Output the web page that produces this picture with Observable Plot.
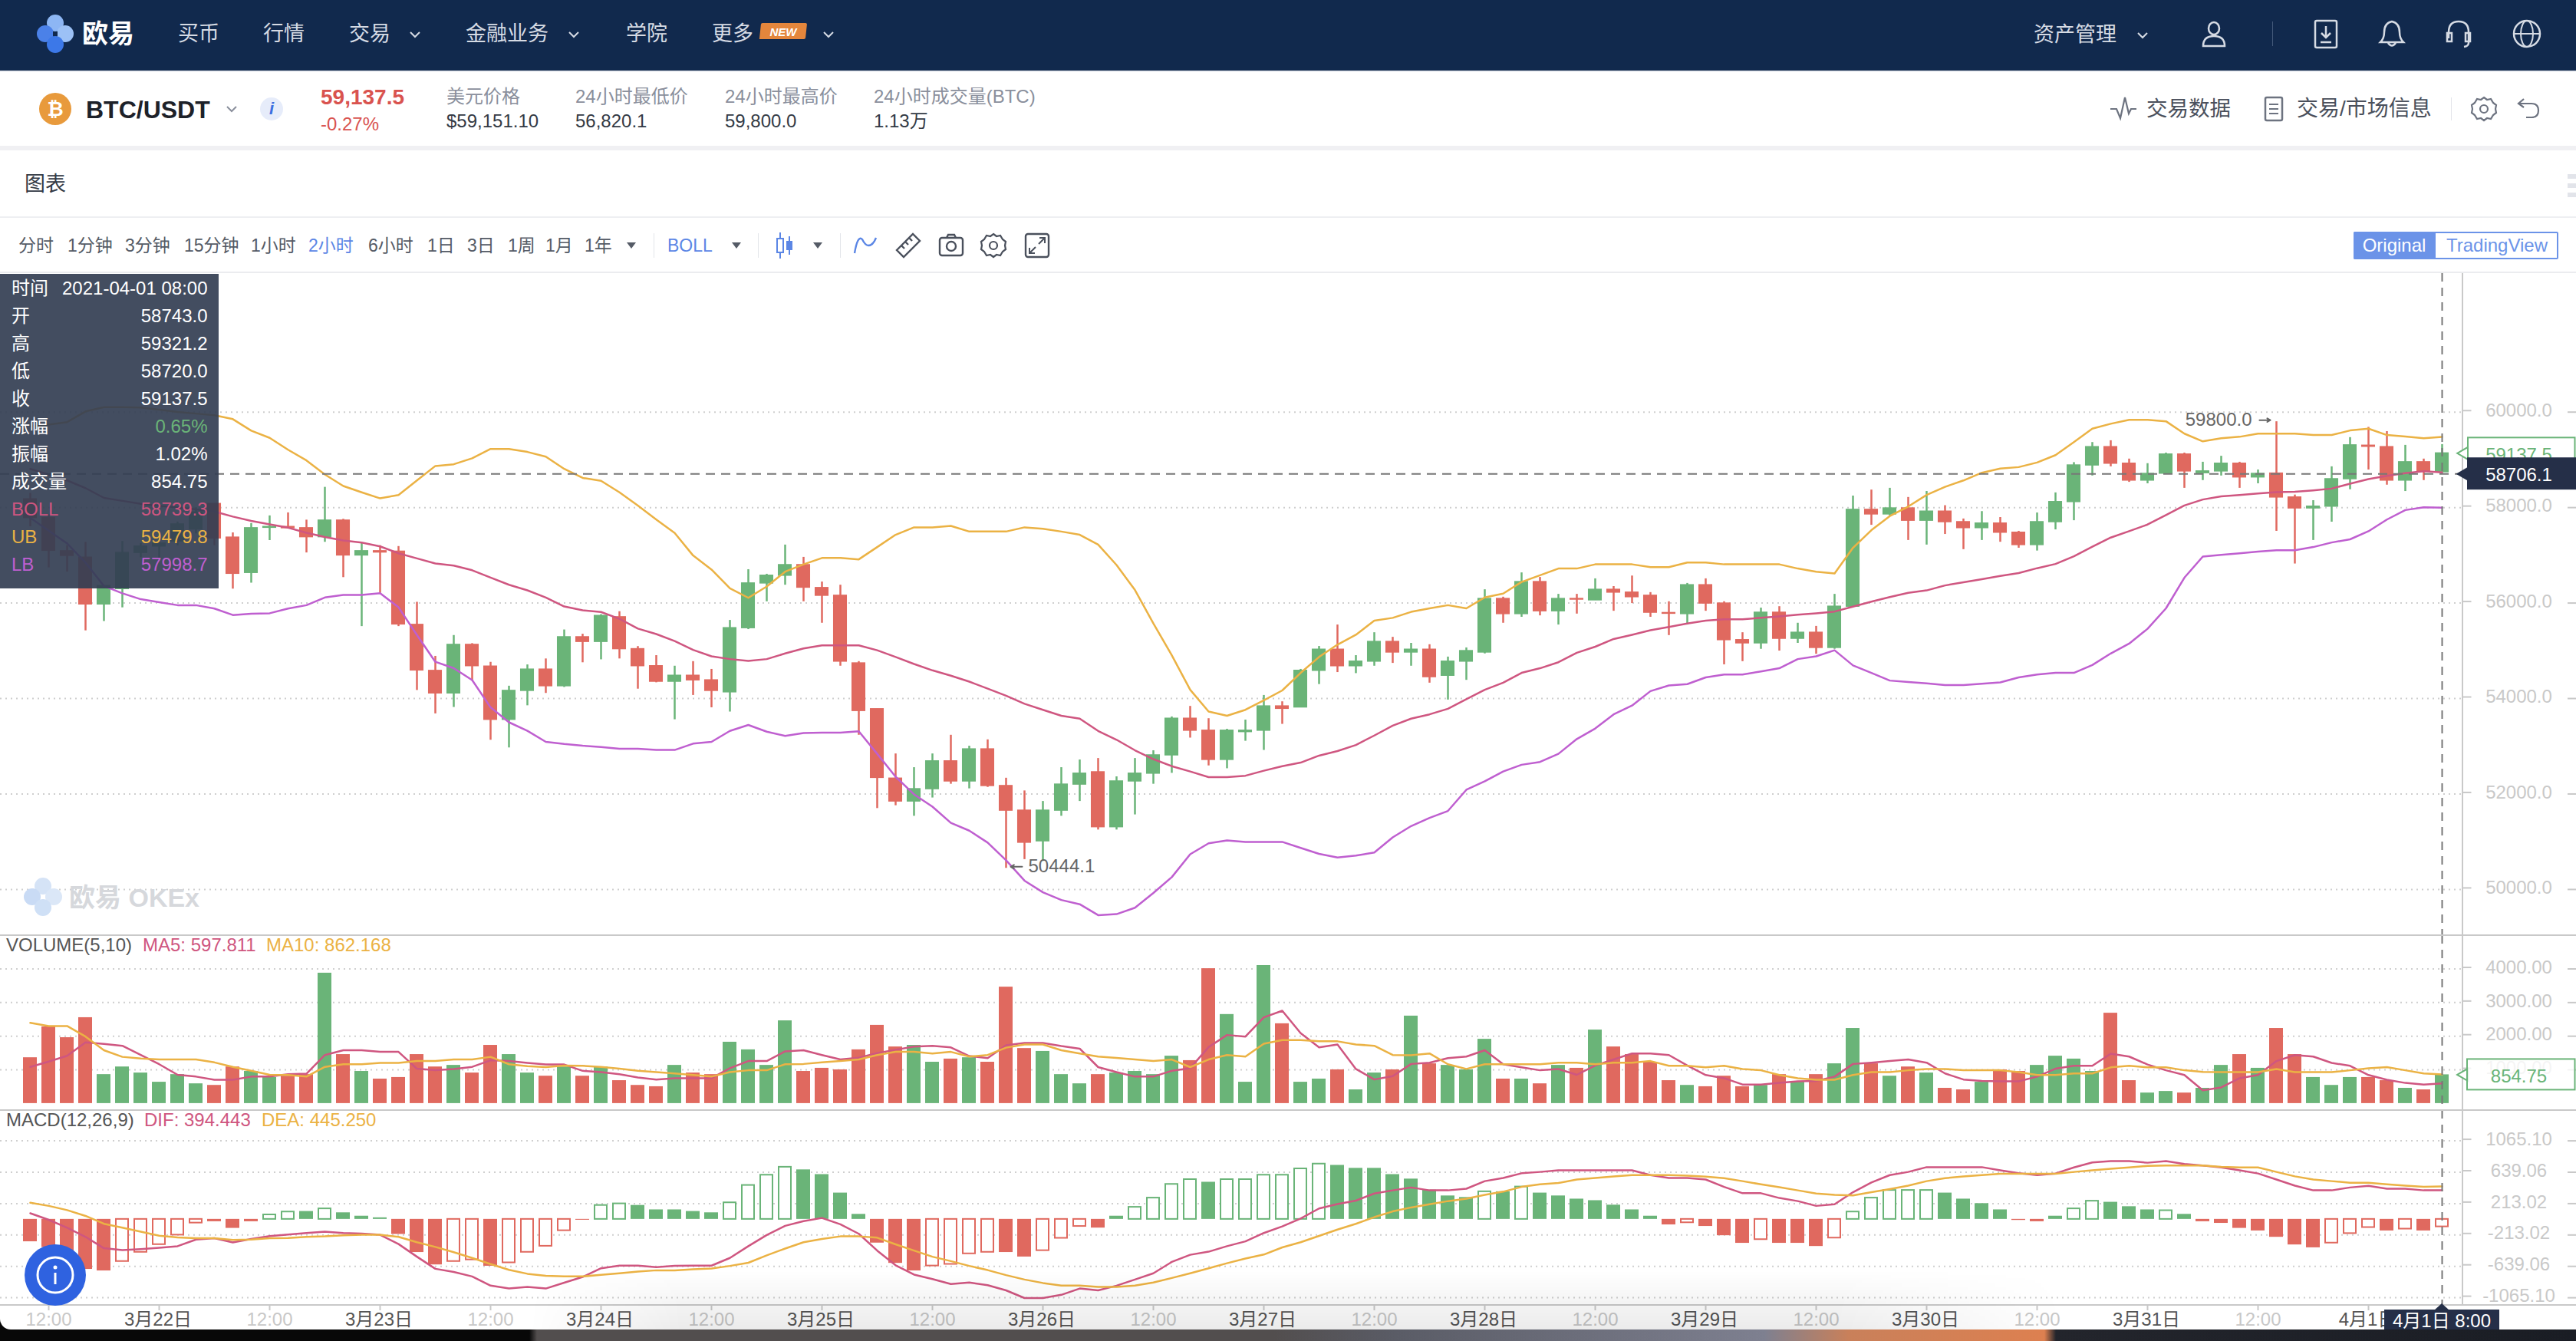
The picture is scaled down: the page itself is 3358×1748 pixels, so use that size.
<!DOCTYPE html>
<html lang="zh">
<head>
<meta charset="utf-8">
<script src="https://cdn.jsdelivr.net/npm/d3@7"></script>
<script src="https://cdn.jsdelivr.net/npm/@observablehq/plot@0.6"></script>
<style>
html,body{margin:0;padding:0;background:#fff;overflow:hidden}
#page{position:relative;width:3358px;height:1748px;overflow:hidden;font-family:"Liberation Sans","Noto Sans CJK SC",sans-serif}
.t{position:absolute;white-space:nowrap;line-height:1}
.abs{position:absolute}
svg.i{position:absolute;overflow:visible;fill:none}
</style>
</head>
<body>
<div id="page"></div>
<script>
// ---------- candle data (2h candles from 2021-03-21 10:00) ----------
const opens=[58176,57784,57088,56954,55973,56294,57052,57186,57293,57543,58078,57373,56633,57579,57596,57570,57382,57730,56999,57088,57079,55545,54581,54109,55126,54671,53556,54162,54608,54260,55286,55188,55705,55036,
54679,54354,54479,54383,54132,55476,56413,56575,56797,56317,56155,54738,53778,52324,51845,52103,52686,52265,52937,52169,51653,51011,51653,52199,52457,51306,52265,52428,52811,53579,53328,52716,53299,53328,53837,
53815,54583,55025,54679,54775,55188,54966,55025,54479,54775,54966,56088,55771,56442,55830,56088,56059,56280,56221,56155,55793,55771,56376,55992,55225,55158,55800,55254,55380,55062,55926,57955,57859,57985,57727,
57918,57697,57572,57668,57476,57217,57697,58118,58885,59269,58922,58568,58713,59114,58723,58760,58922,58634,58715,58214,57985,58022,58597,59299,59269,58568,58952,58743];
const closes=[57784,57097,56990,55973,56357,57052,57186,57249,57650,57900,57356,56615,57570,57596,57570,57382,57730,56999,57088,57061,55554,54590,54109,55126,54680,53556,54162,54608,54260,55286,55188,55732,55036,54680,
54354,54479,54383,54162,55476,56413,56575,56797,56324,56155,54775,53741,52339,51845,52103,52686,52265,52937,52169,51653,50981,51653,52199,52428,51306,52265,52428,52811,53579,53328,52716,53328,53328,53837,53786,
54583,55025,54679,54775,55188,54966,55025,54450,54775,54996,56088,55771,56442,55830,56088,56074,56280,56221,56125,55800,55778,56376,55992,55225,55158,55800,55254,55380,55062,55926,57955,57859,57985,57727,57918,
57697,57572,57668,57476,57217,57697,58118,58885,59269,58922,58568,58708,59114,58760,58760,58922,58634,58708,58214,57985,58022,58597,59306,59276,58568,58952,58760,59137.5];
const highs=[58300,57850,57204,57275,56357,57293,57250,57400,57700,58000,58078,57472,57668,57828,57891,57739,58426,57757,57249,57204,57186,56018,54885,55322,55152,54760,54260,54706,54831,55438,55349,55759,55821,55090,
54900,54679,54775,54612,55638,56701,56605,57217,56959,56442,56376,54775,53778,52841,52553,52841,53232,53003,53136,52332,52066,51845,52553,52715,52745,52361,52745,52908,53616,53837,53579,53358,53550,54066,53933,
54612,55092,55542,54900,55380,55284,55158,55129,54870,55062,56280,56125,56634,56538,56184,56184,56509,56347,56568,56221,56029,56413,56509,56029,55380,55896,55926,55579,55513,56184,58243,58369,58406,58214,58339,
58042,57763,57918,57793,57505,57889,58310,58944,59365,59402,59018,58922,59144,59144,58952,59077,58952,58789,59800,58265,58147,58856,59468,59682,59594,59306,59018,59321.2];
const lows=[57600,56740,56651,55420,55616,55902,56950,56936,57200,57450,57204,56294,56419,57311,57552,57052,57275,56535,55509,56205,55509,54171,53680,53815,54367,53128,52967,53850,54109,54234,54751,54813,54831,54198,
54332,53557,54066,53808,53719,55446,56029,56376,56029,55579,54679,53232,51697,51756,51535,51918,52206,52110,52140,50444.1,50627,50590,51535,51845,51247,51247,51564,52206,52435,53173,52590,52531,53107,52915,53461,
53815,54295,54546,54524,54679,54738,54679,54324,53970,54383,54937,55579,55704,55734,55542,55771,56059,55830,55992,55704,55321,55542,55830,54708,54775,55033,54996,55158,54929,55033,55926,57631,57822,57313,57217,
57439,57121,57313,57276,57151,57092,57535,57727,58664,58856,58531,58501,58713,58406,58568,58664,58406,58501,57505,56820.1,57313,57697,58376,58789,58472,58339,58568,58720];
// ---------- Bollinger bands ----------
const ub=[59702,59737,59791,60014,60103,60103,60094,60050,60005,59969,59934,59853,59612,59461,59211,58988,58694,58453,58319,58194,58265,58569,58872,58908,59033,59229,59229,59166,59068,58810,58622,58560,58319,58042,
57749,57468,56996,56701,56310,56110,56346,56657,56811,56944,56944,56915,57173,57431,57586,57586,57616,57498,57498,57498,57586,57557,57498,57431,57225,56797,56273,55572,54907,54184,53727,53638,53764,53963,54169,
54538,54871,55129,55335,55631,55690,55815,55889,55955,55889,56118,56199,56442,56583,56723,56723,56811,56811,56811,56752,56752,56848,56848,56811,56811,56811,56811,56723,56657,56620,57158,57527,57822,58022,58265,
58435,58568,58730,58819,58848,58944,59099,59372,59653,59756,59837,59837,59808,59549,59387,59453,59483,59549,59549,59549,59520,59520,59616,59653,59520,59490,59453,59479.8];
const boll=[58810,58694,58569,58408,58203,58141,58078,58034,58007,57962,57918,57811,57721,57650,57579,57472,57382,57311,57266,57186,57043,56936,56829,56785,56687,56535,56383,56267,56116,55928,55848,55812,55670,55465,
55350,55203,55018,54885,54826,54789,54826,54944,55048,55114,55114,55114,55011,54871,54723,54590,54479,54354,54206,54059,53889,53764,53638,53579,53321,53136,52915,52730,52583,52472,52354,52354,52383,52487,52583,
52657,52804,52900,53026,53225,53431,53579,53668,53786,53985,54184,54332,54538,54634,54760,54959,55085,55247,55335,55431,55498,55572,55631,55660,55660,55690,55719,55756,55786,55822,55926,56029,56125,56214,56265,
56369,56435,56501,56568,56627,56730,56819,56981,57180,57372,57505,57645,57845,58044,58169,58236,58265,58295,58324,58332,58361,58398,58501,58597,58664,58723,58760,58739.3];
const lb=[57784,57516,57249,56847,56357,56205,56080,56018,55955,55955,55884,55750,55777,55786,55884,55955,56116,56169,56169,56205,55911,55331,54769,54635,54385,53814,53502,53324,53092,53047,53011,52985,52949,52949,
52922,52922,53055,53092,53321,53446,53306,53217,53277,53284,53284,53313,52841,52361,51992,51734,51395,51232,50981,50612,50184,49941,49779,49690,49461,49483,49616,49926,50258,50738,50966,51026,50996,50996,50996,
50870,50745,50671,50708,50775,51092,51328,51498,51645,52088,52265,52472,52612,52671,52841,53151,53372,53668,53852,54155,54273,54302,54442,54502,54502,54568,54634,54826,54885,55011,54693,54538,54376,54346,54317,
54280,54280,54310,54339,54442,54502,54538,54538,54701,54944,55151,55461,55889,56531,56974,57011,57040,57077,57107,57107,57173,57269,57335,57505,57749,57948,58007,57998.7];
// ---------- volume ----------
const volume=[1362,2279,1958,2553,861,1088,908,634,861,587,540,1088,955,775,814,861,3876,1456,955,728,775,1456,1088,1135,908,1730,1456,908,814,1088,814,1088,681,540,
501,1135,908,861,1824,1597,1135,2459,955,1049,1002,1597,2326,1683,1730,1229,1323,1362,1229,3461,1636,1550,861,587,861,908,955,861,1409,1276,4009,2647,634,4103,2372,
634,728,1002,407,908,1002,2600,1182,1135,1002,1911,728,728,587,1135,1049,2185,1683,1456,1229,681,540,501,814,501,540,861,634,861,1182,2232,1182,814,1088,908,
454,407,634,1002,955,1135,1409,1323,955,2686,681,313,360,313,454,1135,1456,1049,2232,1456,775,540,775,775,681,454,407,854.75];
const ma5=[1088,1245,1417,1817,1770,1715,1441,1167,853,799,705,705,799,799,869,885,1441,1582,1582,1535,1535,1034,987,1026,1088,1284,1261,1206,1159,1159,971,932,869,775,
713,752,752,752,1049,1261,1261,1550,1582,1441,1308,1362,1496,1597,1691,1715,1668,1409,1347,1730,1801,1801,1707,1629,1081,932,799,799,971,1049,1676,2036,1989,2560,2756,
2091,1668,1754,1026,713,814,1175,1214,1347,1394,1582,1167,1073,987,1026,853,1128,1308,1488,1488,1441,1128,846,752,564,564,611,658,673,799,1175,1214,1261,1308,1214,
893,713,673,658,658,799,1034,1120,1120,1480,1394,1159,987,846,392,478,752,846,1261,1441,1394,1206,1120,846,705,611,564,597.811];
const ma10=[2396,2302,2302,1989,1582,1386,1339,1308,1308,1308,1221,1088,971,853,846,799,1088,1167,1167,1206,1206,1261,1261,1308,1308,1386,1167,1112,1081,1128,1120,1088,1034,971,
932,893,846,799,932,987,987,1167,1175,1221,1261,1308,1441,1535,1535,1488,1535,1394,1441,1660,1754,1754,1582,1488,1394,1355,1308,1261,1308,1081,1308,1441,1394,1777,1887,
1887,1848,1848,1754,1715,1441,1433,1488,1167,1026,1167,1167,1167,1167,1214,1214,1167,1214,1214,1261,1120,1120,1073,1120,1026,987,846,752,705,705,846,932,932,987,1026,
1026,987,987,987,932,846,846,893,893,1073,1120,1073,1073,987,940,932,932,932,1026,932,932,932,987,1049,1081,987,893,862.168];
// ---------- MACD ----------
const hist=[-304,-382,-490,-679,-700,-572,-447,-343,-214,-50,-32,-122,-32,61,100,107,143,89,43,21,-204,-450,-618,-572,-550,-636,-590,-447,-365,-154,-11,189,211,189,
129,129,107,89,225,461,600,708,672,608,357,68,-322,-597,-700,-633,-611,-468,-447,-450,-511,-425,-257,-96,-118,43,164,289,475,540,504,540,540,600,600,
686,751,733,693,693,608,547,397,318,297,375,375,440,357,318,275,254,193,129,43,-75,-46,-96,-222,-325,-275,-325,-325,-368,-254,100,289,393,393,393,
357,275,214,129,-14,-32,43,143,247,232,172,129,118,68,-32,-54,-122,-157,-243,-347,-386,-322,-193,-111,-157,-132,-157,-101.6];
const histHollow=[5,6,7,8,9,13,14,16,23,24,26,27,28,29,31,32,38,39,40,41,49,50,51,52,55,56,57,60,61,62,63,65,66,67,68,69,70,79,81,90,94,98,99,100,101,102,103,111,112,116,125,126,127,129,131];
const dif=[82,-7,-114,-239,-393,-418,-404,-386,-365,-275,-257,-315,-268,-229,-207,-186,-168,-186,-193,-211,-336,-508,-672,-715,-776,-901,-940,-919,-940,-861,-783,-665,-629,-629,
-650,-633,-629,-629,-525,-365,-214,-89,-25,18,-68,-197,-425,-625,-751,-811,-879,-858,-894,-965,-1069,-1069,-1026,-940,-965,-901,-818,-733,-579,-482,-440,-365,-300,-186,-96,
11,147,207,254,350,393,432,393,393,415,518,561,625,643,665,665,665,665,665,600,561,561,540,440,354,354,289,247,182,204,368,500,600,643,708,
708,708,708,665,625,600,622,704,772,790,790,768,790,751,729,704,665,622,540,457,393,393,432,454,415,415,393,394.443];
const dea=[225,182,125,46,-61,-114,-168,-222,-247,-257,-257,-279,-275,-257,-254,-239,-232,-218,-211,-211,-239,-311,-375,-447,-525,-608,-686,-740,-768,-776,-776,-754,-733,-711,
-693,-693,-679,-668,-633,-590,-490,-397,-311,-268,-232,-232,-250,-340,-425,-508,-568,-633,-690,-758,-818,-865,-901,-901,-919,-919,-901,-858,-797,-733,-665,-597,-533,-479,-382,
-311,-225,-139,-61,29,107,161,204,247,279,332,375,440,475,493,540,561,583,600,600,600,593,579,558,518,475,436,393,350,332,325,368,411,457,518,
558,583,600,618,618,618,618,643,665,686,704,726,729,729,729,711,704,704,643,583,540,518,497,497,475,457,440,445.25];
// ---------- axes, tick labels, readouts ----------
const priceTicks=[50000,52000,54000,56000,58000,60000];
const volumeTicks=[1000,2000,3000,4000];
const macdTicks=[-1065.1,-639.06,-213.02,213.02,639.06,1065.1];
const hourTicks=[1,13,25,37,49,61,73,85,97,109,121];
const dateTicks=[7,19,31,43,55,67,79,91,103,115,127];
const dateLabels=["3月22日","3月23日","3月24日","3月25日","3月26日","3月27日","3月28日","3月29日","3月30日","3月31日","4月1日"];
const lastPrice=59137.5, crossPrice=58706.1, crossIndex=131, lowIndex=53, highIndex=122;
const tipLabels=["时间","开","高","低","收","涨幅","振幅","成交量","BOLL","UB","LB"];
const tipValues=["2021-04-01 08:00","58743.0","59321.2","58720.0","59137.5","0.65%","1.02%","854.75","58739.3","59479.8","57998.7"];

for (const a of [opens,closes,highs,lows,ub,boll,lb,volume,ma5,ma10,hist,dif,dea]) if (a.length!==132) throw new Error("length "+a.length+" first "+a[0]);

const candles=opens.map((o,i)=>({i,o,c:closes[i],h:highs[i],l:lows[i],ub:ub[i],mid:boll[i],lb:lb[i],v:volume[i],ma5:ma5[i],ma10:ma10[i],hist:hist[i],dif:dif[i],dea:dea[i],hollow:histHollow.includes(i)}));
const isUp=d=>d.c>=d.o;

// ---------- palette and scale helpers ----------
const GREEN="#6ab478",RED="#e0695f",PINK="#cf5680",ORANGE="#ebb244",PURPLE="#bf5fd0",NAVY="#252f48",GRID="#cfcfcf",AXIS="#c9c9c9";
const FONT='"Liberation Sans","Noto Sans CJK SC",sans-serif';
const W=3358, AXISX=3209.5, STEP=24, X0=39;
const idx=px=>(px-X0)/STEP;
const xScale={type:"linear",domain:[idx(0),idx(AXISX)],range:[0,AXISX],axis:null};
const baseStyle={background:"transparent",fontSize:"24px",fontFamily:FONT,overflow:"visible"};
const hyphen=f=>d=>f(d).replace("\u2212","-");
const grid=ticks=>Plot.ruleY(ticks,{x1:idx(0),x2:idx(AXISX),stroke:GRID,strokeWidth:2,strokeDasharray:"2 5"});
const stubs=ticks=>Plot.ruleY(ticks,{x1:idx(3347),x2:idx(3358),stroke:AXIS,strokeWidth:2});
const yAxis=(ticks,fmt)=>Plot.axisY(ticks,{anchor:"right",tickSize:11,tickPadding:62.5,textAnchor:"middle",tickFormat:hyphen(fmt),color:AXIS,dy:-2,strokeWidth:2,label:null});
const axisLine=()=>Plot.ruleX([idx(AXISX)],{stroke:AXIS,strokeWidth:2});
const crossV=()=>Plot.ruleX([crossIndex],{stroke:"#777",strokeWidth:2,strokeDasharray:"11 8"});
const line=(key,color)=>Plot.line(candles,{x:"i",y:key,stroke:color,strokeWidth:2.5});

// ---------- price pane ----------
const tagH=322;
const pricePlot=Plot.plot({
  width:W,height:863,marginLeft:0,marginRight:W-AXISX,marginTop:0,marginBottom:0,
  x:xScale,y:{type:"linear",domain:[50000,60000],range:[802.9,180.7],axis:null},style:baseStyle,
  marks:[
    grid(priceTicks),
    Plot.ruleX(candles.filter(isUp),{x:"i",y1:"l",y2:"h",stroke:GREEN,strokeWidth:2.5}),
    Plot.ruleX(candles.filter(d=>!isUp(d)),{x:"i",y1:"l",y2:"h",stroke:RED,strokeWidth:2.5}),
    Plot.rect(candles.filter(isUp),{x1:d=>d.i-.345,x2:d=>d.i+.345,y1:"o",y2:"c",fill:GREEN,stroke:GREEN,strokeWidth:1.5}),
    Plot.rect(candles.filter(d=>!isUp(d)),{x1:d=>d.i-.345,x2:d=>d.i+.345,y1:"o",y2:"c",fill:RED,stroke:RED,strokeWidth:1.5}),
    line("ub",ORANGE),line("mid",PINK),line("lb",PURPLE),
    Plot.arrow([candles[lowIndex]],{x1:d=>d.i+.875,x2:d=>d.i+.25,y1:"l",y2:"l",stroke:"#666",strokeWidth:2,headLength:9,dy:-2}),
    Plot.text([candles[lowIndex]],{x:"i",y:"l",text:d=>d.l.toFixed(1),textAnchor:"start",dx:29,dy:-2,fill:"#666"}),
    Plot.arrow([candles[highIndex]],{x1:d=>d.i-.92,x2:d=>d.i-.33,y1:"h",y2:"h",stroke:"#666",strokeWidth:2,headLength:9,dy:-2}),
    Plot.text([candles[highIndex]],{x:"i",y:"h",text:d=>d.h.toFixed(1),textAnchor:"end",dx:-32,dy:-2,fill:"#666"}),
    Plot.ruleY([crossPrice],{x1:idx(0),x2:idx(AXISX),stroke:"#777",strokeWidth:2,strokeDasharray:"12 8"}),
    axisLine(),yAxis(priceTicks,d3.format(".1f")),stubs(priceTicks),
    Plot.dot([lastPrice],{x:idx(3212),y:d=>d,symbol:"triangle",rotate:-90,r:6,fill:"#fff",stroke:GREEN,strokeWidth:2}),
    Plot.rect([lastPrice],{x1:idx(3217),x2:idx(3356.5),y1:d=>d-tagH,y2:d=>d+tagH,fill:"#fff",fillOpacity:.8,stroke:GREEN,strokeWidth:2}),
    Plot.text([lastPrice],{x:idx(3283),y:d=>d,dy:2,text:d=>d.toFixed(1),fill:GREEN}),
    Plot.dot([crossPrice],{x:idx(3212),y:d=>d,symbol:"triangle",rotate:-90,r:7,fill:NAVY}),
    Plot.rect([crossPrice],{x1:idx(3216),x2:idx(3358),y1:d=>d-337,y2:d=>d+337,fill:NAVY}),
    Plot.text([crossPrice],{x:idx(3283),y:d=>d,dy:2,text:d=>d.toFixed(1),fill:"#fff"}),
    crossV()
  ]
});

// ---------- volume pane ----------
const volPlot=Plot.plot({
  width:W,height:228,marginLeft:0,marginRight:W-AXISX,marginTop:0,marginBottom:0,
  x:xScale,y:{type:"linear",domain:[0,4000],range:[218.9,43.5],axis:null},style:baseStyle,
  marks:[
    grid(volumeTicks),
    Plot.rect(candles.filter(isUp),{x1:d=>d.i-.375,x2:d=>d.i+.375,y1:0,y2:"v",fill:GREEN}),
    Plot.rect(candles.filter(d=>!isUp(d)),{x1:d=>d.i-.375,x2:d=>d.i+.375,y1:0,y2:"v",fill:RED}),
    line("ma5",PINK),line("ma10",ORANGE),
    axisLine(),yAxis(volumeTicks,d3.format(".2f")),stubs(volumeTicks),
    Plot.dot([volume[crossIndex]],{x:idx(3212),y:d=>d,symbol:"triangle",rotate:-90,r:6,fill:"#fff",stroke:GREEN,strokeWidth:2}),
    Plot.rect([volume[crossIndex]],{x1:idx(3216),x2:idx(3356.5),y1:d=>d-456,y2:d=>d+456,fill:"#fff",fillOpacity:.8,stroke:GREEN,strokeWidth:2}),
    Plot.text([volume[crossIndex]],{x:idx(3283),y:d=>d,dy:2,text:d=>d.toFixed(2),fill:GREEN}),
    crossV()
  ]
});

// ---------- MACD pane ----------
const solid=candles.filter(d=>!d.hollow), open_=candles.filter(d=>d.hollow);
const macdPlot=Plot.plot({
  width:W,height:286,marginLeft:0,marginRight:W-AXISX,marginTop:0,marginBottom:32,
  x:xScale,y:{type:"linear",domain:[-1065.1,1065.1],range:[244.1,39.6],axis:null},style:baseStyle,
  marks:[
    grid(macdTicks),
    Plot.rect(solid.filter(d=>d.hist>=0),{x1:d=>d.i-.375,x2:d=>d.i+.375,y1:0,y2:"hist",fill:GREEN}),
    Plot.rect(solid.filter(d=>d.hist<0),{x1:d=>d.i-.375,x2:d=>d.i+.375,y1:0,y2:"hist",fill:RED}),
    Plot.rect(open_.filter(d=>d.hist>=0),{x1:d=>d.i-.333,x2:d=>d.i+.333,y1:0,y2:"hist",fill:"#fff",stroke:GREEN,strokeWidth:2}),
    Plot.rect(open_.filter(d=>d.hist<0),{x1:d=>d.i-.333,x2:d=>d.i+.333,y1:0,y2:"hist",fill:"#fff",stroke:RED,strokeWidth:2}),
    line("dif",PINK),line("dea",ORANGE),
    axisLine(),yAxis(macdTicks,d3.format(".2f")),stubs(macdTicks),
    Plot.axisX(hourTicks,{anchor:"bottom",tickSize:7,tickPadding:2,tickFormat:()=>"12:00",stroke:AXIS,fill:"#c8c8c8",strokeWidth:2,label:null}),
    Plot.axisX(dateTicks,{anchor:"bottom",tickSize:7,tickPadding:2,tickFormat:()=>"",stroke:AXIS,strokeWidth:2,label:null}),
    Plot.axisX(dateTicks,{anchor:"bottom",tickSize:0,tickPadding:9,dx:-1.5,tickFormat:i=>dateLabels[dateTicks.indexOf(i)],fill:"#555",label:null}),
    crossV()
  ]
});

// ---------- page chrome ----------
const page=document.getElementById("page");
const el=(html)=>{const d=document.createElement("div");d.innerHTML=html;while(d.firstChild)page.appendChild(d.firstChild);};
const box=(x,y,w,h,css="")=>`<div class="abs" style="left:${x}px;top:${y}px;width:${w}px;height:${h}px;${css}"></div>`;
const txt=(x,y,s,size,color,opt={})=>{
  const tx=opt.anchor==="end"?"-100%":opt.anchor==="middle"?"-50%":"0";
  return `<div class="t" style="left:${x}px;top:${y}px;font-size:${size}px;color:${color};font-weight:${opt.weight||400};transform:translate(${tx},-50%);${opt.css||""}">${s}</div>`;
};
const chev=(x,y,color)=>`<svg class="i" style="left:${x-7}px;top:${y-4}px" width="14" height="9"><path d="M1 1 L7 7 L13 1" stroke="${color}" stroke-width="2"/></svg>`;
const tri=(x,y,color)=>`<svg class="i" style="left:${x-6}px;top:${y-4}px" width="12" height="9"><path d="M0 0 H12 L6 8 Z" fill="${color}"/></svg>`;
const ic=(x,y,s,w=36,h=36)=>`<svg class="i" style="left:${x-w/2}px;top:${y-h/2}px" width="${w}" height="${h}" viewBox="0 0 ${w} ${h}">${s}</svg>`;

// base layers
el(box(0,1716,W,32,"background:linear-gradient(to right,#080808 0 690px,#524e4e 700px 1660px,#5a5c66 1820px,#7e8090 2300px,#c9805a 2410px,#dd8050 2665px,#23252c 2680px,#1a1d24 100%)"));
el(box(0,0,W,1733,"background:#fff;border-radius:0 0 0 14px"));
// nav bar
el(box(0,0,W,92,"background:#11294d"));
el(box(0,92,W,2,"background:#eef0f4"));
el(ic(72,44,`<circle cx="24" cy="10" r="11" fill="#8db6f4"/><circle cx="11" cy="24" r="11" fill="#4b81e8"/><circle cx="37" cy="24" r="11" fill="#9cc1f6"/><circle cx="24" cy="38" r="11" fill="#3c78e8"/><rect x="21" y="21" width="6" height="6" fill="#11294d"/>`,48,48));
el(txt(107,44,"欧易",34,"#fff",{weight:700}));
const INK="#d6dbe4";
[["买币",232],["行情",343],["交易",455],["金融业务",607],["学院",816],["更多",928]].forEach(([s,x])=>el(txt(x,44,s,27,INK)));
[541,748,1080].forEach(x=>el(chev(x,45,INK)));
el(box(991,30,60,21,"background:#e4863c;transform:skewX(-6deg);border-radius:2px 2px 2px 0"));
el(txt(1021,41,"NEW",15,"#fff",{anchor:"middle",weight:700,css:"font-style:italic"}));
el(txt(2651,45,"资产管理",27,INK));
el(chev(2793,46,INK));
el(ic(2886,44,`<ellipse cx="18" cy="11" rx="7" ry="8" stroke="${INK}" stroke-width="2.5"/><path d="M4 34 q0-13 14-13 q14 0 14 13 z" stroke="${INK}" stroke-width="2.5"/>`));
el(box(2962,28,1,32,"background:#44597a"));
el(ic(3032,44,`<rect x="4" y="1" width="28" height="35" rx="2" stroke="${INK}" stroke-width="2.5"/><path d="M18 8 V22 M12 17 L18 23 L24 17 M11 29 H25" stroke="${INK}" stroke-width="2.5"/>`));
el(ic(3118,44,`<path d="M18 2 q-10 2 -10 14 q0 8 -5 13 h30 q-5 -5 -5 -13 q0 -12 -10 -14 z M13 30 q5 7 10 0" stroke="${INK}" stroke-width="2.5"/>`));
el(ic(3205,44,`<path d="M5 24 V16 q0 -14 13 -14 q13 0 13 14 V30 q0 4 -6 5" stroke="${INK}" stroke-width="2.5"/><rect x="3" y="17" width="6" height="11" stroke="${INK}" stroke-width="2.5"/><rect x="27" y="17" width="6" height="11" stroke="${INK}" stroke-width="2.5"/>`));
el(ic(3294,44,`<circle cx="18" cy="18" r="17" stroke="${INK}" stroke-width="2.5"/><ellipse cx="18" cy="18" rx="8" ry="17" stroke="${INK}" stroke-width="2"/><path d="M1 18 H35" stroke="${INK}" stroke-width="2"/>`));
// market strip
el(ic(72,142,`<circle cx="21" cy="21" r="21" fill="#e89a3c"/><text x="21" y="30" font-size="26" font-weight="700" fill="#fff" text-anchor="middle" font-family="Liberation Sans">₿</text>`,42,42));
el(txt(112,143,"BTC/USDT",32,"#1d2129",{weight:700}));
el(chev(302,142,"#8a8f9c"));
el(box(339,127,30,30,"background:#e6ecfa;border-radius:50%"));
el(txt(354,142,"i",22,"#3c6fe0",{anchor:"middle",weight:700,css:"font-style:italic"}));
el(txt(418,127,"59,137.5",28,"#d9534f",{weight:700}));
el(txt(418,162,"-0.27%",24,"#d9534f"));
const LBL="#8a8f9c", VAL="#333a45";
[[582,"美元价格","$59,151.10"],[750,"24小时最低价","56,820.1"],[945,"24小时最高价","59,800.0"],[1139,"24小时成交量(BTC)","1.13万"]].forEach(([x,a,b])=>{el(txt(x,126,a,24,LBL));el(txt(x,158,b,24,VAL));});
const GRAYI="#6d7380";
el(ic(2768,142,`<path d="M1 18 H9 L14 30 L20 3 L25 24 L28 18 H35" stroke="${GRAYI}" stroke-width="2.2"/>`));
el(txt(2798,142,"交易数据",27.5,"#4a505c"));
el(ic(2964,142,`<rect x="7" y="3" width="22" height="30" rx="2" stroke="${GRAYI}" stroke-width="2.5"/><path d="M12 12 H24 M12 18 H24 M12 24 H24" stroke="${GRAYI}" stroke-width="2"/>`));
el(txt(2994,142,"交易/市场信息",28,"#4a505c"));
el(box(3195,127,1,30,"background:#e3e5ea"));
const gear=(c)=>`<path d="M18 3 l4 3 5 -1 3 5 4 3 -1 5 1 5 -4 3 -3 5 -5 -1 -4 3 -4 -3 -5 1 -3 -5 -4 -3 1 -5 -1 -5 4 -3 3 -5 5 1 z" stroke="${c}" stroke-width="2.2"/><circle cx="18" cy="18" r="5" stroke="${c}" stroke-width="2.2"/>`;
el(ic(3238,142,gear(GRAYI)));
el(ic(3296,142,`<path d="M12 5 L5 11 L12 16 M5 11 H22 q9 0 9 9 q0 9 -9 9 H15" stroke="${GRAYI}" stroke-width="2.2"/>`));
el(box(0,190,W,6,"background:#f0f0f3"));
// title row
el(txt(32,240,"图表",27,"#333a45"));
[230,242,254].forEach(y=>el(box(3347,y-3,11,6,"background:#e2e4ea")));
el(box(0,282,W,2,"background:#eeeff2"));
// toolbar
[["分时",24],["1分钟",88],["3分钟",163],["15分钟",240],["1小时",327],["6小时",480],["1日",557],["3日",609],["1周",662],["1月",711],["1年",762]].forEach(([s,x])=>el(txt(x,320,s,23,"#555b66")));
el(txt(402,320,"2小时",23,"#5b86e5"));
el(txt(870,320,"BOLL",23,"#5b86e5"));
[823,960,1066].forEach(x=>el(tri(x,320,"#555b66")));
[852,988,1095].forEach(x=>el(box(x,304,1,32,"background:#e3e5ea")));
el(ic(1023,320,`<path d="M12 1 V35 M24 6 V30" stroke="#5b86e5" stroke-width="2"/><rect x="8" y="9" width="8" height="18" fill="#fff" stroke="#5b86e5" stroke-width="2"/><rect x="20" y="12" width="8" height="12" fill="#5b86e5"/>`));
el(ic(1128,320,`<path d="M4 28 q4 -24 10 -18 q4 8 8 8 q6 0 10 -10" stroke="#5b86e5" stroke-width="2.4"/>`));
el(ic(1184,320,`<path d="M3 24 L24 3 L33 12 L12 33 Z M9 18 l4 4 M14 13 l4 4 M19 8 l4 4" stroke="#4a505c" stroke-width="2.4"/>`));
el(ic(1240,320,`<rect x="3" y="8" width="30" height="23" rx="3" stroke="#4a505c" stroke-width="2.4"/><path d="M12 8 L14 4 H22 L24 8" stroke="#4a505c" stroke-width="2.4"/><circle cx="18" cy="19" r="6" stroke="#4a505c" stroke-width="2.4"/>`));
el(ic(1295,320,gear("#4a505c")));
el(ic(1352,320,`<rect x="3" y="3" width="30" height="30" rx="3" stroke="#4a505c" stroke-width="2.4"/><path d="M20 16 L27 9 M21 8 H28 V15 M16 20 L9 27 M8 21 V28 H15" stroke="#4a505c" stroke-width="2"/>`));
el(box(3068,302,267,36,"box-sizing:border-box;border:2px solid #6b93e8;border-radius:2px;background:#fff"));
el(box(3068,302,107,36,"background:#6b93e8;border-radius:2px 0 0 2px"));
el(txt(3121,320,"Original",24,"#fff",{anchor:"middle"}));
el(txt(3255,320,"TradingView",24,"#6b93e8",{anchor:"middle"}));
el(box(0,354,W,2,"background:#ebecef"));

// plots
const place=(svg,top)=>{const w=document.createElement("div");w.style.cssText=`position:absolute;left:0;top:${top}px;width:${W}px;line-height:0`;w.appendChild(svg);page.appendChild(w);};
place(pricePlot,356);place(volPlot,1219);place(macdPlot,1447);

// separators
el(box(0,1218,W,2,`background:${AXIS}`));
el(box(0,1446,W,2,`background:${AXIS}`));
el(box(0,1700,AXISX+148,2,`background:${AXIS}`));
// pane legends
el(txt(8,1232,"VOLUME(5,10)",24,"#555"));
el(txt(186,1232,"MA5: 597.811",24,PINK));
el(txt(347,1232,"MA10: 862.168",24,ORANGE));
el(txt(8,1460,"MACD(12,26,9)",24,"#555"));
el(txt(188,1460,"DIF: 394.443",24,PINK));
el(txt(341,1460,"DEA: 445.250",24,ORANGE));
// watermark
el(ic(56,1170,`<circle cx="25" cy="10" r="11" fill="#d5e3f6"/><circle cx="11" cy="24" r="11" fill="#c9dbf5"/><circle cx="39" cy="24" r="11" fill="#dbe7f7"/><circle cx="25" cy="38" r="11" fill="#cfe0f6"/>`,50,50));
el(txt(90,1170,"欧易 OKEx",34,"#d6d8dc",{weight:700}));
// crosshair readout
const tipColors=["#fff","#fff","#fff","#fff","#fff","#fff","#fff","#fff",PINK,ORANGE,PURPLE];
const tipValueColors=["#fff","#fff","#fff","#fff","#fff",GREEN,"#fff","#fff",PINK,ORANGE,PURPLE];
el(box(0,357,285,410,"background:rgba(51,62,82,.92)"));
const rowY=[375.5,411.6,447.7,483.7,519.8,555.9,592,627.5,663.5,699.6,735.7];
tipLabels.forEach((s,k)=>{el(txt(15,rowY[k],s,24,tipColors[k]));el(txt(270.5,rowY[k],tipValues[k],24,tipValueColors[k],{anchor:"end"}));});
// info button
el(box(32,1622,80,80,"background:#2f62e0;border-radius:50%"));
el(ic(72,1662,`<circle cx="26" cy="26" r="23" stroke="#fff" stroke-width="3"/><circle cx="26" cy="16" r="2.5" fill="#fff"/><path d="M26 23 V38" stroke="#fff" stroke-width="3"/>`,52,52));
// soft shadow near the bottom
el(box(690,1656,2000,77,"pointer-events:none;background:linear-gradient(to bottom,rgba(0,0,0,0),rgba(0,0,0,.08));-webkit-mask-image:linear-gradient(to right,transparent,#000 10%,#000 85%,transparent)"));
// time tag
el(box(3108,1707,150,26,`background:${NAVY}`));
el(`<svg class="i" style="left:3173px;top:1699px" width="20" height="9"><path d="M0 9 L10 0 L20 9 Z" fill="${NAVY}"/></svg>`);
el(txt(3183,1722,"4月1日 8:00",24,"#fff",{anchor:"middle"}));
</script>
</body>
</html>
